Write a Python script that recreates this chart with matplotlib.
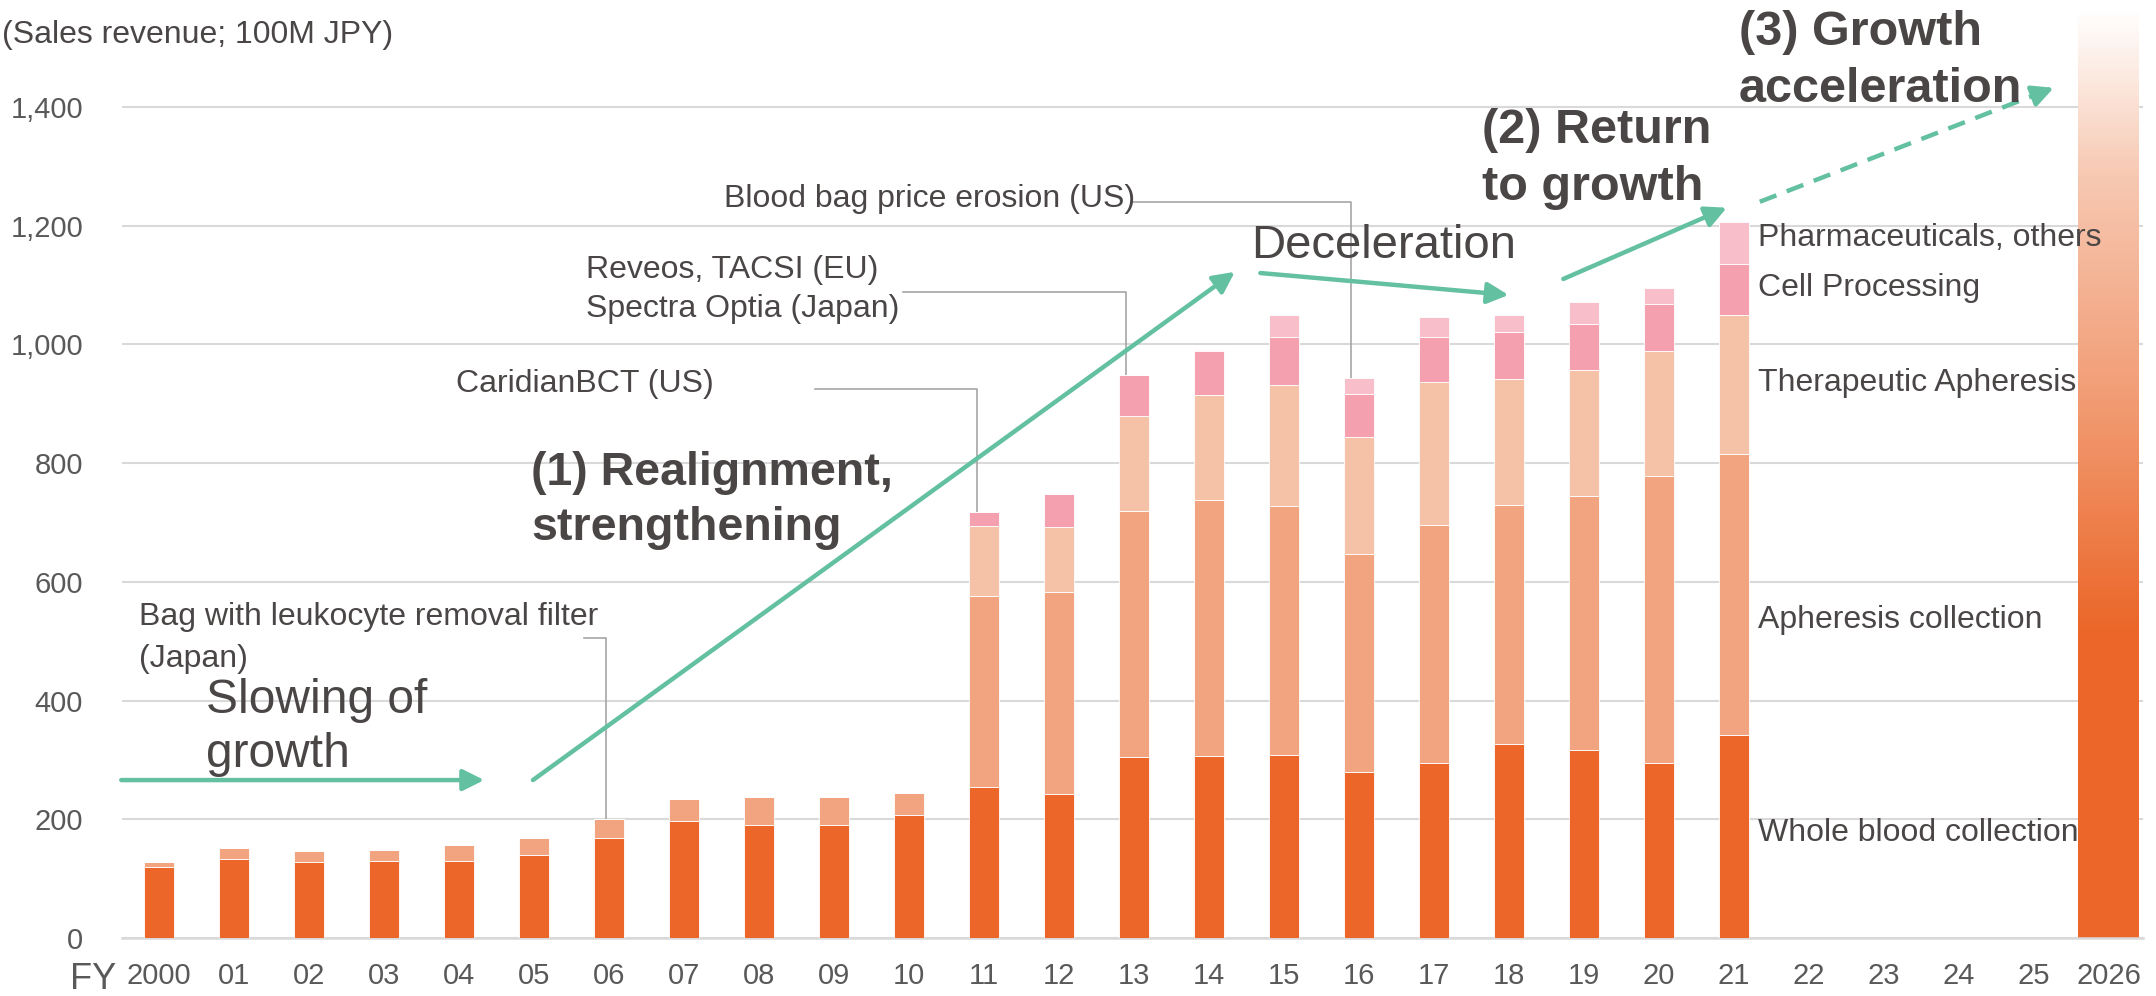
import matplotlib
matplotlib.use("Agg")
import matplotlib.pyplot as plt
import numpy as np
from matplotlib.colors import LinearSegmentedColormap

# FY labels (2000 .. 2026)
years = ["2000", "01", "02", "03", "04", "05", "06", "07", "08", "09", "10",
         "11", "12", "13", "14", "15", "16", "17", "18", "19", "20", "21",
         "22", "23", "24", "25", "2026"]

# sales revenue by segment, FY2000-FY2021 (100M JPY)
whole_blood = [119, 133, 128, 130, 130, 140, 169, 197, 190, 190, 207,
               255, 243, 305, 307, 308, 279, 295, 327, 316, 294, 342]
apheresis_coll = [9, 18, 18, 18, 26, 29, 31, 37, 48, 48, 37,
                  321, 340, 415, 431, 420, 368, 400, 402, 429, 484, 474]
therapeutic = [0] * 11 + [118, 109, 159, 176, 203, 197, 241, 213, 212, 211, 234]
cell_proc = [0] * 11 + [23, 55, 69, 75, 82, 73, 76, 79, 77, 79, 86]
pharma = [0] * 11 + [0, 0, 0, 2, 36, 27, 34, 28, 38, 26, 70]

series = [("Whole blood collection", whole_blood, "#EB6628"),
          ("Apheresis collection", apheresis_coll, "#F2A37F"),
          ("Therapeutic Apheresis", therapeutic, "#F5C2A8"),
          ("Cell Processing", cell_proc, "#F5A0AE"),
          ("Pharmaceuticals, others", pharma, "#F8BFCA")]

target_2026 = 1563  # bar runs to top of the chart

TXT = "#4A4646"
GREEN = "#63C0A0"
LEADER = "#A6A6A6"
W, H = 2156, 996

plt.rcParams["font.family"] = ["Liberation Sans", "DejaVu Sans"]

fig = plt.figure(figsize=(W / 100, H / 100), dpi=100)
ax = fig.add_axes([122 / W, 1 - 938 / H, (2143 - 122) / W, (938 - 10) / H])


def fpx(x, y):
    return x / W, 1 - y / H


x = np.arange(len(whole_blood))
bottom = np.zeros(len(x))
for name, vals, col in series:
    ax.bar(x, vals, width=0.4, bottom=bottom, color=col, edgecolor="white",
           linewidth=0.6, zorder=3)
    bottom += np.array(vals)
totals = bottom

# FY2026 target bar with gradient
i26 = len(years) - 1
bar26 = ax.bar([i26], [target_2026], width=0.81, color="none", zorder=3)[0]
cmap = LinearSegmentedColormap.from_list(
    "grad", [(0, "#EB6628"), (0.33, "#EB6628"), (0.6, "#F2A07A"),
             (0.82, "#F7C8B1"), (1.0, "#FFFFFF")])
grad = np.linspace(0, 1, 256).reshape(-1, 1)
im = ax.imshow(grad, cmap=cmap, origin="lower", aspect="auto",
               extent=[i26 - 0.405, i26 + 0.405, 0, target_2026], zorder=2.5)
im.set_clip_path(bar26)

ax.set_xlim(-0.49, 26.46)
ax.set_ylim(0, 1563)
ax.set_xticks(np.arange(len(years)))
ax.set_xticklabels(years)
ax.set_yticks(np.arange(0, 1401, 200))
ax.set_yticklabels([f"{v:,}" for v in range(0, 1401, 200)])
ax.tick_params(axis="both", length=0, labelcolor="#595959")
ax.tick_params(axis="x", pad=17, labelsize=21)
ax.tick_params(axis="y", pad=28, labelsize=21)
ax.grid(axis="y", color="#D9D9D9", lw=1.5, zorder=0)
ax.set_axisbelow(True)
for s in ["top", "right", "left"]:
    ax.spines[s].set_visible(False)
ax.spines["bottom"].set_color("#D9D9D9")
ax.spines["bottom"].set_linewidth(1.8)

fig.text(*fpx(93, 979), "FY", fontsize=26, color="#595959", ha="center", va="center")
fig.text(*fpx(2, 35), "(Sales revenue; 100M JPY)", fontsize=23, color=TXT,
         ha="left", va="center")

# segment labels on the right
seg_labels = [("Pharmaceuticals, others", 1179), ("Cell Processing", 1095),
              ("Therapeutic Apheresis", 935), ("Apheresis collection", 536),
              ("Whole blood collection", 177)]
for lab, yv in seg_labels:
    ax.text(21.33, yv, lab, fontsize=23, color=TXT, va="center", ha="left", zorder=5)

# event annotations with leader lines
events = [
    (["Bag with leukocyte removal filter", "(Japan)"], 139, [625, 667], 6, -0.03, 584, 638),
    (["CaridianBCT (US)"], 456, [392], 11, -0.09, 815, 389),
    (["Reveos, TACSI (EU)", "Spectra Optia (Japan)"], 586, [278, 317], 13, -0.1, 903, 292),
    (["Blood bag price erosion (US)"], 724, [207], 16, -0.1, 1132, 202),
]
for lines, tx, bases, idx, off, lx, ly in events:
    for ln, b in zip(lines, bases):
        fig.text(*fpx(tx, b), ln, fontsize=23, color=TXT, ha="left", va="baseline")
    xv = idx + off
    y_line = (938 - ly) / (928 / 1563)
    x_start = (lx - 158.6) / 75
    ax.plot([x_start, xv, xv], [y_line, y_line, totals[idx]], color=LEADER,
            lw=1.2, zorder=2)

# phase labels
fig.text(*fpx(206, 713), "Slowing of", fontsize=34.5, color=TXT, va="baseline")
fig.text(*fpx(206, 767), "growth", fontsize=34.5, color=TXT, va="baseline")
fig.text(*fpx(1251, 258), "Deceleration", fontsize=34, color=TXT, va="baseline")
fig.text(*fpx(531, 485), "(1) Realignment,", fontsize=33.5, color=TXT, weight="bold", va="baseline")
fig.text(*fpx(531, 540), "strengthening", fontsize=33.5, color=TXT, weight="bold", va="baseline")
fig.text(*fpx(1482, 143), "(2) Return", fontsize=35, color=TXT, weight="bold", va="baseline")
fig.text(*fpx(1482, 200), "to growth", fontsize=35, color=TXT, weight="bold", va="baseline")
fig.text(*fpx(1739, 45), "(3) Growth", fontsize=35, color=TXT, weight="bold", va="baseline")
fig.text(*fpx(1739, 102), "acceleration", fontsize=35, color=TXT, weight="bold", va="baseline")

# trend arrows
arrows = [((-0.5, 266), (4.34, 266)),
          ((4.99, 266), (14.35, 1122)),
          ((14.69, 1120), (18.0, 1083)),
          ((18.73, 1110), (20.91, 1230))]
for (x0, y0), (x1, y1) in arrows:
    ax.annotate("", xy=(x1, y1), xytext=(x0, y0),
                arrowprops=dict(arrowstyle="-|>", color=GREEN, lw=3.2,
                                mutation_scale=32, shrinkA=0, shrinkB=0),
                zorder=6, annotation_clip=False)
# dashed arrow for (3)
d0, d1 = (21.35, 1240), (25.27, 1432)
ax.plot([d0[0], d1[0] - 0.25], [d0[1], d1[1] - 12], color=GREEN, lw=3.2,
        dashes=(4, 2.5), zorder=6)
ax.annotate("", xy=d1, xytext=(d1[0] - 0.3, d1[1] - 14.7),
            arrowprops=dict(arrowstyle="-|>", color=GREEN, lw=3.2,
                            mutation_scale=32, shrinkA=0, shrinkB=0),
            zorder=6, annotation_clip=False)

fig.savefig("out.png", dpi=100)
